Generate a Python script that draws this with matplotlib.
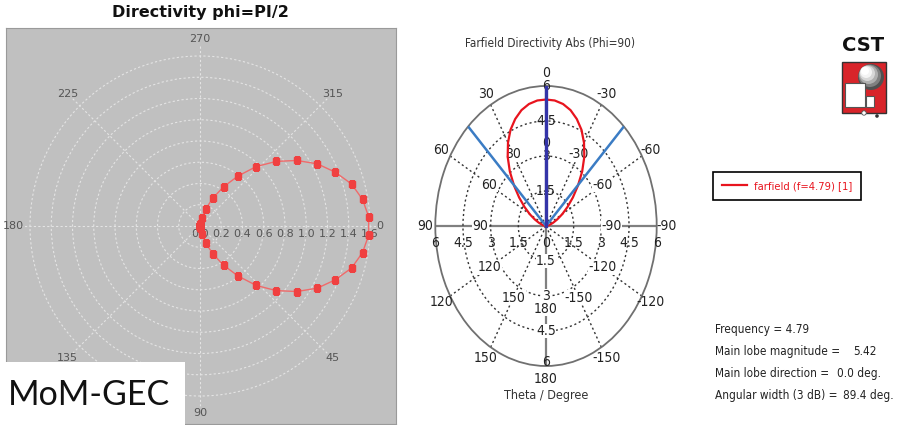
import numpy as np
import matplotlib
matplotlib.use('Agg')
import matplotlib.pyplot as plt
from matplotlib.patches import Rectangle, Circle
from matplotlib.lines import Line2D
from matplotlib.font_manager import FontProperties

W, H = 898, 425


def narrow(size):
    return FontProperties(family='DejaVu Sans', stretch='condensed', size=size)


# ---- MoM-GEC directivity, phi = pi/2 (linear), clockwise angles ----
mom_theta = [3.1, 9.3, 15.5, 21.7, 27.9, 34.1, 40.3, 46.6, 52.8, 59.0, 65.2, 71.4, 77.6, 83.8,
             90.0, 96.2, 102.4, 108.6, 114.8, 121.0, 127.2, 133.4, 139.7, 145.9, 152.1, 158.3,
             164.5, 170.7, 176.9,
             183.1, 189.3, 195.5, 201.7, 207.9, 214.1, 220.3, 226.6, 232.8, 239.0, 245.2, 251.4,
             257.6, 263.8, 270.0, 276.2, 282.4, 288.6, 294.8, 301.0, 307.2, 313.4, 319.7, 325.9,
             332.1, 338.3, 344.5, 350.7, 356.9]
mom_dir = [1.59, 1.55, 1.48, 1.37, 1.25, 1.10, 0.94, 0.77, 0.59, 0.43, 0.29, 0.17, 0.08, 0.02,
           0, 0, 0, 0, 0, 0, 0, 0, 0, 0, 0, 0, 0, 0, 0,
           0, 0, 0, 0, 0, 0, 0, 0, 0, 0, 0, 0, 0, 0, 0,
           0.02, 0.08, 0.17, 0.29, 0.43, 0.59, 0.77, 0.94, 1.10, 1.25, 1.37, 1.48, 1.55, 1.59]
mom_rings = [0.2, 0.4, 0.6, 0.8, 1.0, 1.2, 1.4, 1.6]
mom_rlabels = ['0.0', '0.2', '0.4', '0.6', '0.8', '1.0', '1.2', '1.4', '1.6']
mom_angles = [0, 45, 90, 135, 180, 225, 270, 315]

# ---- CST farfield directivity abs (phi = 90) ----
cst_theta = [-90, -85, -80, -75, -70, -65, -60, -55, -50, -45, -40, -35, -30, -25, -20, -15, -10, -5,
             0, 5, 10, 15, 20, 25, 30, 35, 40, 45, 50, 55, 60, 65, 70, 75, 80, 85, 90]
cst_dir = [0, 0.02, 0.09, 0.22, 0.42, 0.68, 1.02, 1.42, 1.90, 2.45, 3.05, 3.62, 4.12, 4.55, 4.88,
           5.14, 5.31, 5.40, 5.42, 5.40, 5.31, 5.14, 4.88, 4.55, 4.12, 3.62, 3.05, 2.45, 1.90, 1.42,
           1.02, 0.68, 0.42, 0.22, 0.09, 0.02, 0]
cst_rings = [1.5, 3, 4.5]
cst_rlabels = ['1.5', '3', '4.5', '6']
cst_outer = {0: '0', 30: '30', 60: '60', 90: '90', 120: '120', 150: '150', 180: '180',
             -30: '-30', -60: '-60', -90: '-90', -120: '-120', -150: '-150'}
freq = 4.79
main_mag = 5.42
main_dir = 0.0
ang_width = 89.4

fig = plt.figure(figsize=(W / 100, H / 100), dpi=100)
fig.patch.set_facecolor('white')

# left: gray frame + polar plot
axg = fig.add_axes([6 / W, 1 / H, 390 / W, 396 / H])
axg.set_facecolor('#c0c0c0')
axg.set_xticks([])
axg.set_yticks([])
for s in axg.spines.values():
    s.set_color('#9a9a9a')

rmax = 1.7
side = 170 / 1.6 * rmax * 2
axp = fig.add_axes([(200 - side / 2) / W, (H - 226 - side / 2) / H, side / W, side / H],
                   projection='polar')
axp.set_facecolor('none')
axp.set_theta_zero_location('E')
axp.set_theta_direction(-1)
axp.set_ylim(0, rmax)
axp.set_rgrids(mom_rings, labels=[])
axp.set_thetagrids(mom_angles, labels=[])
axp.grid(color='#e4e4e4', linestyle=(0, (2, 2)), linewidth=0.8)
axp.spines['polar'].set_visible(False)

th = np.deg2rad(np.append(mom_theta, mom_theta[0]))
rr = np.append(mom_dir, mom_dir[0])
axp.plot(th, rr, color='#f06a6a', lw=1.0, zorder=4)
axp.plot(th, rr, ls='none', marker='s', ms=3.8, color='#f04040', zorder=5)

for r, lab in zip([0] + mom_rings, mom_rlabels):
    axp.annotate(lab, xy=(0, r), xytext=(0, -6), textcoords='offset points',
                 ha='center', va='center', fontsize=8, color='#555555', annotation_clip=False)
for a in mom_angles:
    axp.text(np.deg2rad(a), 1.69 if a == 0 else 1.76, str(a), ha='center', va='center',
             fontsize=8, color='#555555', clip_on=False)

fig.text(200 / W, 1 - 12 / H, 'Directivity phi=PI/2', ha='center', va='center',
         fontsize=11.5, fontweight='bold', color='#111111')

# middle: CST polar plot (elliptic frame)
axc = fig.add_axes([435.3 / W, 59 / H, 221.4 / W, 280 / H], projection='polar')
axc.set_aspect('auto')
axc.set_theta_zero_location('N')
axc.set_theta_direction(1)
axc.set_ylim(0, 6)
axc.set_rgrids(cst_rings, labels=[])
tg = list(range(0, 360, 30))
axc.set_thetagrids(tg, labels=[])
axc.grid(color='#333333', linestyle=(0, (1.5, 2)), linewidth=1.0)
for gl, a in zip(axc.xaxis.get_gridlines(), tg):
    if a % 90 == 0:
        gl.set_linestyle('-')
        gl.set_color('#808080')
        gl.set_linewidth(1.6)
axc.spines['polar'].set_color('#707070')
axc.spines['polar'].set_linewidth(1.3)

axc.plot(np.deg2rad(cst_theta), cst_dir, color='#e8141e', lw=1.6, zorder=5)
half = np.deg2rad(ang_width / 2)
axc.plot([half, 0, -half], [6, 0, 6], color='#3b7cc4', lw=1.8, zorder=5)
axc.plot([np.deg2rad(main_dir)] * 2, [0, 6], color='#3434a8', lw=2.4, zorder=6)

tkw = dict(ha='center', va='center', color='#222222', fontproperties=narrow(10), clip_on=False)
wbox = dict(facecolor='white', edgecolor='none', pad=0.3)
for a, lab in cst_outer.items():
    axc.text(np.deg2rad(a), 6.55, lab, **tkw)
    axc.text(np.deg2rad(a), 3.55, lab, bbox=wbox, zorder=3, **tkw)
for r, lab in zip(cst_rings + [6], cst_rlabels):
    axc.text(0, r, lab, zorder=3, **tkw)
    axc.text(np.pi, r if r < 6 else 5.85, lab, bbox=wbox if r < 6 else None, zorder=3, **tkw)
for r, lab in zip([0] + cst_rings + [6], ['0'] + cst_rlabels):
    for a in ([90, -90] if r > 0 else [0]):
        axc.annotate(lab, xy=(np.deg2rad(a), r), xytext=(0, -12), textcoords='offset points',
                     ha='center', va='center', color='#222222', fontproperties=narrow(10),
                     annotation_clip=False)

fig.text(550 / W, 1 - 44 / H, 'Farfield Directivity Abs (Phi=90)', ha='center', va='center',
         color='#333333', fontproperties=narrow(8.5))
fig.text(546 / W, 1 - 396 / H, 'Theta / Degree', ha='center', va='center',
         color='#333333', fontproperties=narrow(9))

# legend
leg = fig.legend(handles=[Line2D([], [], color='#e8141e', lw=1.6)],
                 labels=['farfield (f=%.2f) [1]' % freq],
                 loc='upper left', bbox_to_anchor=(713 / W, 1 - 172 / H), borderaxespad=0,
                 frameon=True, fancybox=False, edgecolor='black', framealpha=1,
                 handlelength=2.3, handletextpad=0.6, borderpad=0.8,
                 prop=narrow(8), labelcolor='#e8141e')
leg.get_frame().set_linewidth(1.2)

# summary
rows = [('Frequency = %.2f' % freq, ''),
        ('Main lobe magnitude =', '%.2f' % main_mag),
        ('Main lobe direction =', '%.1f deg.' % main_dir),
        ('Angular width (3 dB) =', '%.1f deg.' % ang_width)]
vx = [0, 853, 837, 843]
for i, (lab, val) in enumerate(rows):
    y = 1 - (330 + i * 21.7) / H
    fig.text(715 / W, y, lab, ha='left', va='center', color='#222222', fontproperties=narrow(8.5))
    if val:
        fig.text(vx[i] / W, y, val, ha='left', va='center', color='#222222',
                 fontproperties=narrow(8.5))

# overlay: CST logo and method label
deco = fig.add_axes([0, 0, 1, 1], zorder=10)
deco.set_xlim(0, W)
deco.set_ylim(H, 0)
deco.axis('off')
deco.text(863, 45, 'CST', ha='center', va='center', fontsize=14, fontweight='bold', color='#111111')
deco.add_patch(Rectangle((842, 62), 44, 51, facecolor='#d8242a', edgecolor='#333333', lw=1))
for k, c in enumerate(['#505050', '#808080', '#b0b0b0', '#d8d8d8', '#f4f4f4', '#ffffff']):
    deco.add_patch(Circle((871 - k * 1.2, 77 - k * 1.2), 13 - k * 1.8, facecolor=c, edgecolor='none'))
deco.add_patch(Rectangle((845, 83), 20, 24, facecolor='white', edgecolor='#555555', lw=0.8))
deco.add_patch(Rectangle((866, 96), 8, 11, facecolor='white', edgecolor='#555555', lw=0.8))
deco.add_patch(Circle((864, 113), 2.2, facecolor='white', edgecolor='#555555', lw=0.6))
deco.add_patch(Circle((877, 116), 1.8, facecolor='#333333', edgecolor='none'))

deco.add_patch(Rectangle((0, 362), 185, 63, facecolor='white', edgecolor='none'))
deco.text(8, 395, 'MoM-GEC', ha='left', va='center', fontsize=24.5, color='#111111', family='Lato')

fig.savefig('out.png', dpi=100)
